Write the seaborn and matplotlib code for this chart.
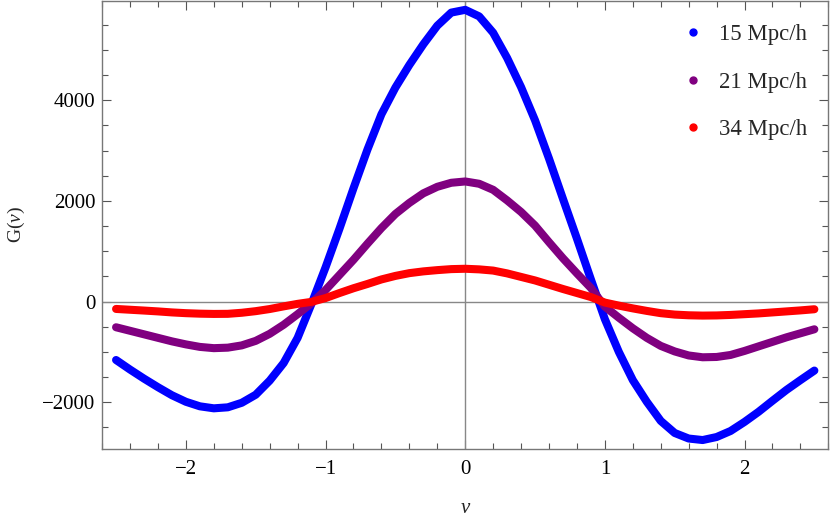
import numpy as np
import pandas as pd
import seaborn as sns
import matplotlib
matplotlib.use("Agg")
import matplotlib.pyplot as plt
from matplotlib.lines import Line2D
from matplotlib.ticker import MultipleLocator

nu = [-2.5, -2.4, -2.3, -2.2, -2.1, -2.0, -1.9, -1.8, -1.7, -1.6, -1.5,
      -1.4, -1.3, -1.2, -1.1, -1.0, -0.9, -0.8, -0.7, -0.6, -0.5,
      -0.4, -0.3, -0.2, -0.1, 0.0, 0.1, 0.2, 0.3, 0.4, 0.5,
      0.6, 0.7, 0.8, 0.9, 1.0, 1.1, 1.2, 1.3, 1.4, 1.5,
      1.6, 1.7, 1.8, 1.9, 2.0, 2.1, 2.2, 2.3, 2.4, 2.5]

g_15 = [-1160, -1350, -1530, -1700, -1860, -1990, -2080, -2120, -2100, -2010, -1850,
        -1570, -1220, -720, -40, 680, 1450, 2250, 3020, 3720, 4250,
        4700, 5110, 5480, 5740, 5795, 5665, 5340, 4840, 4260, 3600,
        2840, 2040, 1250, 440, -350, -1000, -1560, -1990, -2370, -2610,
        -2720, -2750, -2690, -2570, -2390, -2190, -1970, -1755, -1560, -1370]

g_21 = [-510, -580, -650, -720, -790, -850, -900, -925, -915, -870, -780,
        -640, -460, -250, -30, 230, 530, 830, 1150, 1460, 1740,
        1960, 2150, 2280, 2360, 2386, 2340, 2220, 2010, 1780, 1510,
        1180, 860, 560, 270, -100, -320, -530, -720, -880, -990,
        -1070, -1106, -1100, -1060, -980, -890, -800, -710, -630, -550]

g_34 = [-146, -162, -178, -195, -215, -230, -240, -245, -243, -222, -190,
        -148, -95, -45, -5, 70, 170, 265, 350, 440, 510,
        565, 600, 625, 645, 652, 640, 616, 560, 490, 420,
        335, 250, 170, 90, -20, -80, -135, -185, -230, -258,
        -272, -278, -275, -265, -250, -235, -215, -195, -175, -152]

labels = ["15 Mpc/h", "21 Mpc/h", "34 Mpc/h"]
colors = ["#0000ff", "#800080", "#ff0000"]

df = pd.DataFrame({
    "nu": nu * 3,
    "G": g_15 + g_21 + g_34,
    "scale": [labels[0]] * len(nu) + [labels[1]] * len(nu) + [labels[2]] * len(nu),
})

sns.set_theme(style="white")
plt.rcParams["font.family"] = ["Liberation Serif", "DejaVu Serif"]
plt.rcParams["mathtext.fontset"] = "custom"
plt.rcParams["mathtext.rm"] = "Liberation Serif"
plt.rcParams["mathtext.it"] = "Liberation Serif:italic"

fig = plt.figure(figsize=(8.3, 5.18), dpi=100)
ax = fig.add_axes([0.123, 0.133, 0.875, 0.866])

# zero axes
ax.axhline(0, color="#888888", lw=1.0, zorder=1)
ax.axvline(0, color="#888888", lw=1.0, zorder=1)

sns.lineplot(data=df, x="nu", y="G", hue="scale", palette=colors, hue_order=labels,
             linewidth=5.8, ax=ax, legend=False, zorder=3)
for ln in ax.get_lines()[2:]:
    ln.set_solid_capstyle("round")
    ln.set_solid_joinstyle("round")

ax.set_xlim(-2.6, 2.6)
ax.set_ylim(-2930, 5980)

ax.xaxis.set_major_locator(MultipleLocator(1))
ax.xaxis.set_minor_locator(MultipleLocator(0.2))
ax.yaxis.set_major_locator(MultipleLocator(2000))
ax.yaxis.set_minor_locator(MultipleLocator(500))
ax.tick_params(which="both", direction="in", top=True, right=True, bottom=True, left=True,
               color="#555555", width=0.8, labelsize=15, labelcolor="black")
ax.tick_params(which="major", length=6.5)
ax.tick_params(axis="x", which="major", pad=8)
ax.tick_params(axis="y", which="major", pad=5)
ax.tick_params(which="minor", length=4.2)

for s in ax.spines.values():
    s.set_color("#777777")
    s.set_linewidth(1.0)

ax.set_xlabel(r"$\nu$", fontsize=15, labelpad=14)
ax.set_ylabel(r"$\mathrm{G}(\nu)$", fontsize=14, labelpad=11)

handles = [Line2D([], [], marker="o", linestyle="", color=c, markersize=5) for c in colors]
ax.legend(handles, labels, loc="upper right", bbox_to_anchor=(0.999, 0.993), frameon=False,
          fontsize=16.4, handletextpad=0.64, labelspacing=1.17, borderaxespad=0.5,
          handlelength=1.0)

fig.savefig("out.png", dpi=100)
